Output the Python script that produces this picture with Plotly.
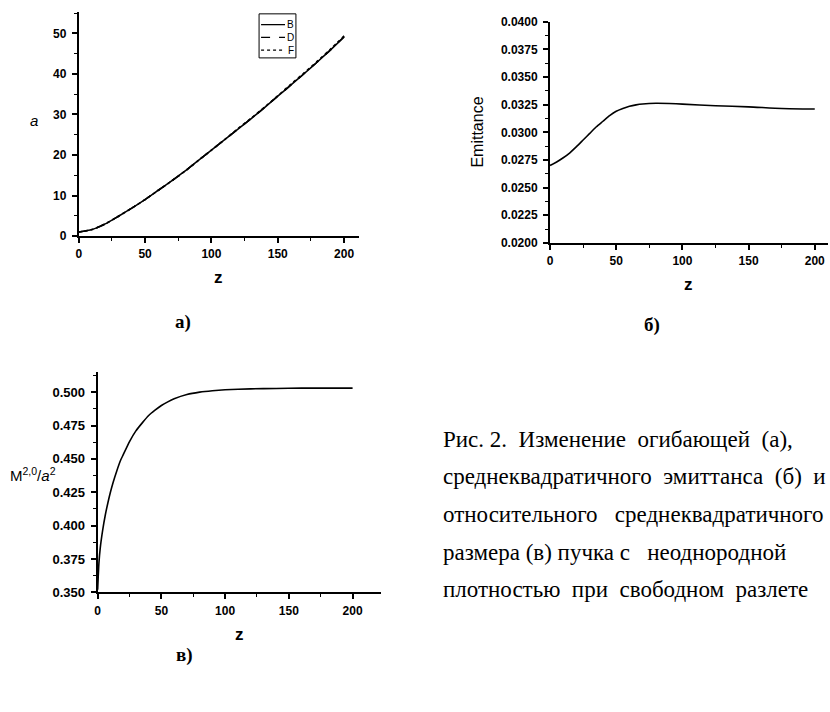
import plotly.graph_objects as go

W, H = 830, 712

# ---- Panel (a): envelope a(z) ----
z_a = [0, 10, 20, 30, 40, 50, 60, 70, 80, 90, 100, 110, 120, 130, 140, 150, 160, 170, 180, 190, 200]
a_B = [1.0, 1.6, 3.0, 4.9, 6.9, 9.0, 11.3, 13.6, 16.0, 18.6, 21.2, 23.8, 26.4, 29.0, 31.7, 34.5, 37.3, 40.1, 43.0, 46.0, 49.1]
a_D = [1.0, 1.6, 3.0, 4.9, 6.9, 9.0, 11.3, 13.6, 16.0, 18.6, 21.2, 23.8, 26.4, 29.0, 31.7, 34.5, 37.3, 40.1, 43.0, 46.0, 49.2]
a_F = [1.0, 1.6, 3.0, 4.9, 6.9, 9.0, 11.3, 13.6, 16.0, 18.6, 21.2, 23.8, 26.5, 29.1, 31.8, 34.6, 37.5, 40.3, 43.2, 46.2, 49.4]
legend_names = ["B", "D", "F"]

# ---- Panel (б): emittance ----
z_e = [0, 5, 10, 15, 20, 25, 30, 35, 40, 45, 50, 55, 60, 65, 70, 80, 90, 100, 125, 150, 175, 200]
emit = [0.0270, 0.02732, 0.0277, 0.02815, 0.0287, 0.0293, 0.0299, 0.0305, 0.0310, 0.0315, 0.0319,
        0.03215, 0.03235, 0.03248, 0.03256, 0.03262, 0.0326, 0.03255, 0.0324, 0.0323, 0.03215, 0.0321]

# ---- Panel (в): M^{2,0}/a^2 ----
z_m = [0, 1, 2, 4, 6, 8, 10, 12, 15, 18, 20, 25, 30, 35, 40, 45, 50, 55, 60, 70, 80, 90, 100,
       120, 140, 160, 180, 200]
m_ratio = [0.352, 0.372, 0.383, 0.397, 0.408, 0.417, 0.425, 0.432, 0.441, 0.449, 0.453, 0.463,
           0.471, 0.477, 0.4825, 0.4865, 0.490, 0.4927, 0.4950, 0.4982, 0.5000, 0.5011, 0.5018,
           0.5025, 0.5028, 0.5030, 0.5030, 0.5030]

NB = "\u00a0"
caption_lines = [
    "Рис. 2." + NB * 2 + "Изменение" + NB + " огибающей" + NB + " (а),",
    "среднеквадратичного" + NB + " эмиттанса" + NB + " (б)" + NB + " и",
    "относительного" + NB * 2 + " среднеквадратичного",
    "размера (в) пучка с" + NB * 2 + " неоднородной",
    "плотностью" + NB + " при" + NB + " свободном" + NB + " разлете",
]


def px_x(p):
    return p / W


def px_y(p):
    return 1 - p / H


fig = go.Figure()
line_style = dict(color="black", width=1.6, shape="spline", smoothing=0.6)
dashes = ["solid", "dash", "dot"]
for name, ys, d in zip(legend_names, [a_B, a_D, a_F], dashes):
    fig.add_trace(go.Scatter(x=z_a, y=ys, mode="lines", name=name, showlegend=False,
                             line=dict(line_style, dash=d), xaxis="x", yaxis="y"))
fig.add_trace(go.Scatter(x=z_e, y=emit, mode="lines", line=line_style, showlegend=False,
                         xaxis="x2", yaxis="y2"))
fig.add_trace(go.Scatter(x=z_m, y=m_ratio, mode="lines", line=line_style, showlegend=False,
                         xaxis="x3", yaxis="y3"))


def ax(domain, rng, dtick, minor, anchor, fmt=None, size=12, standoff=3):
    d = dict(domain=domain, range=rng, dtick=dtick, tick0=rng[0],
             showline=True, linecolor="black", linewidth=2, ticks="outside", ticklen=5,
             tickwidth=1.5, tickcolor="black", showgrid=False, zeroline=False,
             minor=dict(ticks="outside", ticklen=3, tickwidth=1, tickcolor="black", dtick=minor,
                        showgrid=False),
             tickfont=dict(family="Liberation Sans, Arial", size=size, color="black", weight="bold"),
             anchor=anchor, ticklabelstandoff=standoff)
    if fmt:
        d["tickformat"] = fmt
    return d


fig.update_layout(
    width=W, height=H, margin=dict(l=0, r=0, t=0, b=0),
    paper_bgcolor="white", plot_bgcolor="white",
    xaxis=ax([px_x(76), px_x(357)], [0, 211], 50, 25, "y", standoff=1),
    yaxis=ax([px_y(234), px_y(5)], [0, 55.3], 10, 5, "x"),
    xaxis2=ax([px_x(549), px_x(828)], [0, 210], 50, 25, "y2", standoff=1),
    yaxis2=ax([px_y(241), px_y(15)], [0.02, 0.04], 0.0025, 0.00125, "x2", ".4f"),
    xaxis3=ax([px_x(95), px_x(379)], [0, 222], 50, 25, "y3", standoff=1),
    yaxis3=ax([px_y(598), px_y(373)], [0.35, 0.515], 0.025, 0.0125, "x3", ".3f", size=13),
    showlegend=False,
)

# legend key (panel a)
fig.add_shape(type="rect", xref="paper", yref="paper",
              x0=px_x(257), x1=px_x(294), y0=px_y(52), y1=px_y(7),
              line=dict(color="black", width=1), fillcolor="white", layer="above")
for i, (name, d) in enumerate(zip(legend_names, dashes)):
    yy = 18 + 13 * i
    fig.add_shape(type="line", xref="paper", yref="paper",
                  x0=px_x(259), x1=px_x(283), y0=px_y(yy), y1=px_y(yy),
                  line=dict(color="black", width=1.3, dash=d), layer="above")
    fig.add_annotation(text=name, x=px_x(289), y=px_y(yy), xref="paper", yref="paper",
                       showarrow=False, xanchor="center", yanchor="middle",
                       font=dict(family="Liberation Sans, Arial", size=10, color="black"))

sans = "Liberation Sans, Arial"
serif = "Liberation Serif, Times New Roman"
ann = [
    dict(text="<i>a</i>", x=px_x(31), y=px_y(116), font=dict(family=sans, size=15)),
    dict(text="<b>z</b>", x=px_x(216), y=px_y(276), font=dict(family=sans, size=17)),
    dict(text="<b>z</b>", x=px_x(688), y=px_y(283), font=dict(family=sans, size=17)),
    dict(text="<b>z</b>", x=px_x(237), y=px_y(641), font=dict(family=sans, size=17)),
    dict(text="Emittance", x=px_x(476), y=px_y(128), textangle=-90, font=dict(family=sans, size=16)),
    dict(text="M<sup>2,0</sup>/<i>a</i><sup>2</sup>", x=px_x(30), y=px_y(478), font=dict(family=sans, size=15)),
    dict(text="<b>а)</b>", x=px_x(181), y=px_y(322), font=dict(family=serif, size=19)),
    dict(text="<b>б)</b>", x=px_x(651), y=px_y(325), font=dict(family=serif, size=19)),
    dict(text="<b>в)</b>", x=px_x(182), y=px_y(662), font=dict(family=serif, size=19)),
]
for a in ann:
    a.update(xref="paper", yref="paper", showarrow=False, xanchor="center", yanchor="middle")
    a["font"]["color"] = "black"
    fig.add_annotation(**a)

for line, yc in zip(caption_lines, [442, 480, 518, 557, 595]):
    fig.add_annotation(text=line, x=px_x(440), y=px_y(yc), xref="paper", yref="paper",
                       showarrow=False, xanchor="left", yanchor="middle",
                       font=dict(family=serif, size=23, color="black"))

fig.write_html("out.html")
